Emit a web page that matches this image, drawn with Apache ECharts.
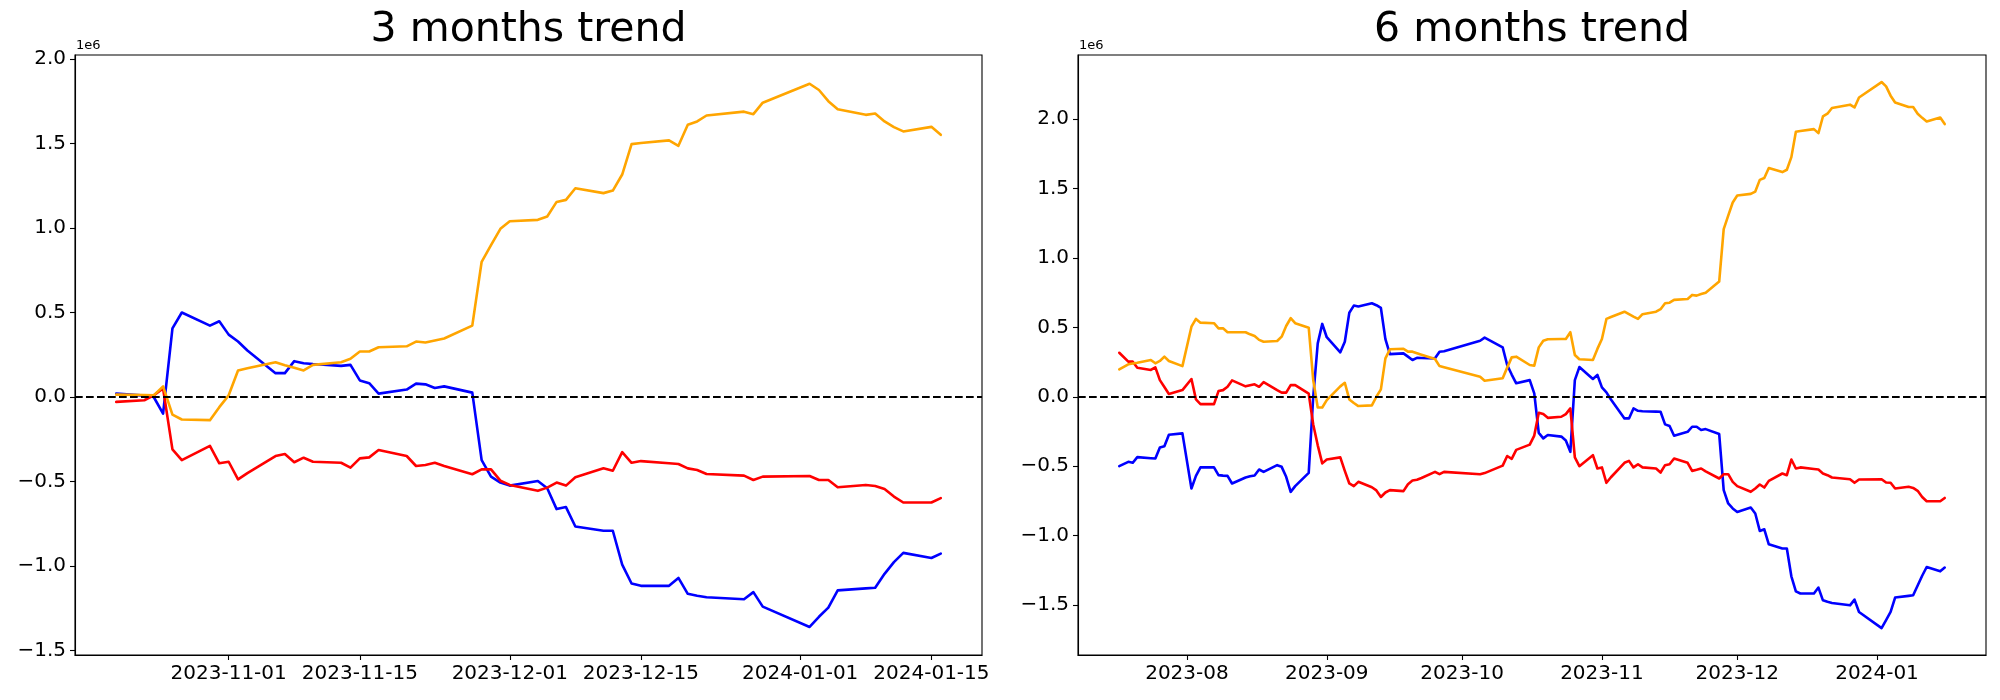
<!DOCTYPE html>
<html><head><meta charset="utf-8">
<script src="https://cdn.jsdelivr.net/npm/echarts@6/dist/echarts.min.js"></script>
<style>html,body{margin:0;padding:0;background:#fff}#c{width:2000px;height:700px}</style>
</head><body><div id="c"></div>
<script>
// ---------- 3 months (values in units of 1e6) ----------
const dates3 = ['2023-10-20','2023-10-23','2023-10-24','2023-10-25','2023-10-26','2023-10-27','2023-10-30','2023-10-31',
'2023-11-01','2023-11-02','2023-11-03','2023-11-06','2023-11-07','2023-11-08','2023-11-09','2023-11-10',
'2023-11-13','2023-11-14','2023-11-15','2023-11-16','2023-11-17','2023-11-20','2023-11-21','2023-11-22','2023-11-23','2023-11-24',
'2023-11-27','2023-11-28','2023-11-29','2023-11-30','2023-12-01',
'2023-12-04','2023-12-05','2023-12-06','2023-12-07','2023-12-08',
'2023-12-11','2023-12-12','2023-12-13','2023-12-14','2023-12-15',
'2023-12-18','2023-12-19','2023-12-20','2023-12-21','2023-12-22',
'2023-12-26','2023-12-27','2023-12-28',
'2024-01-02','2024-01-03','2024-01-04','2024-01-05',
'2024-01-08','2024-01-09','2024-01-10','2024-01-11','2024-01-12',
'2024-01-15','2024-01-16'];
const blue3 = [0.02,0.008,0.0,-0.098,0.406,0.50,0.422,0.448,
0.369,0.328,0.275,0.141,0.141,0.212,0.20,0.195,
0.184,0.19,0.098,0.082,0.02,0.044,0.079,0.075,0.053,0.063,
0.026,-0.373,-0.471,-0.506,-0.524,
-0.497,-0.54,-0.663,-0.651,-0.766,
-0.791,-0.791,-0.991,-1.103,-1.117,
-1.117,-1.07,-1.164,-1.175,-1.184,
-1.196,-1.154,-1.24,
-1.36,-1.30,-1.246,-1.144,
-1.132,-1.128,-1.046,-0.977,-0.922,
-0.952,-0.926];
const red3 = [-0.029,-0.019,0.01,0.05,-0.31,-0.373,-0.289,-0.392,
-0.383,-0.487,-0.45,-0.349,-0.337,-0.386,-0.359,-0.383,
-0.389,-0.418,-0.363,-0.357,-0.314,-0.349,-0.408,-0.402,-0.389,-0.408,
-0.457,-0.428,-0.428,-0.495,-0.52,
-0.555,-0.536,-0.506,-0.524,-0.475,
-0.422,-0.436,-0.326,-0.389,-0.379,
-0.392,-0.396,-0.422,-0.432,-0.455,
-0.465,-0.491,-0.471,
-0.467,-0.491,-0.491,-0.534,
-0.52,-0.526,-0.544,-0.589,-0.624,
-0.624,-0.598];
const orange3 = [0.014,0.012,0.01,0.063,-0.104,-0.133,-0.137,-0.06,
0.01,0.157,0.17,0.206,0.188,0.173,0.157,0.19,
0.206,0.226,0.269,0.269,0.294,0.30,0.328,0.322,0.334,0.346,
0.422,0.80,0.899,0.995,1.04,
1.048,1.068,1.154,1.166,1.235,
1.206,1.221,1.316,1.496,1.502,
1.518,1.486,1.61,1.63,1.665,
1.688,1.673,1.741,
1.853,1.816,1.75,1.702,
1.669,1.677,1.63,1.596,1.571,
1.598,1.551];
const xTicks3 = ['2023-11-01','2023-11-15','2023-12-01','2023-12-15','2024-01-01','2024-01-15'];

// ---------- 6 months (values in units of 1e6) ----------
const dates6 = ['2023-07-17','2023-07-19','2023-07-20','2023-07-21','2023-07-24','2023-07-25','2023-07-26','2023-07-27','2023-07-28','2023-07-31',
'2023-08-02','2023-08-03','2023-08-04','2023-08-07','2023-08-08','2023-08-09','2023-08-10','2023-08-11','2023-08-14','2023-08-15','2023-08-16','2023-08-17','2023-08-18','2023-08-21','2023-08-22','2023-08-23','2023-08-24','2023-08-25','2023-08-28','2023-08-29','2023-08-30','2023-08-31',
'2023-09-01','2023-09-04','2023-09-05','2023-09-06','2023-09-07','2023-09-08','2023-09-11','2023-09-12','2023-09-13','2023-09-14','2023-09-15','2023-09-18','2023-09-19','2023-09-20','2023-09-21','2023-09-22','2023-09-25','2023-09-26','2023-09-27',
'2023-10-05','2023-10-06','2023-10-10','2023-10-11','2023-10-12','2023-10-13','2023-10-16','2023-10-17','2023-10-18','2023-10-19','2023-10-20','2023-10-23','2023-10-24','2023-10-25','2023-10-26','2023-10-27','2023-10-30','2023-10-31',
'2023-11-01','2023-11-02','2023-11-03','2023-11-06','2023-11-07','2023-11-08','2023-11-09','2023-11-10','2023-11-13','2023-11-14','2023-11-15','2023-11-16','2023-11-17','2023-11-20','2023-11-21','2023-11-22','2023-11-23','2023-11-24','2023-11-27','2023-11-28','2023-11-29','2023-11-30',
'2023-12-01','2023-12-04','2023-12-05','2023-12-06','2023-12-07','2023-12-08','2023-12-11','2023-12-12','2023-12-13','2023-12-14','2023-12-15','2023-12-18','2023-12-19','2023-12-20','2023-12-21','2023-12-22','2023-12-26','2023-12-27','2023-12-28',
'2024-01-02','2024-01-03','2024-01-04','2024-01-05','2024-01-08','2024-01-09','2024-01-10','2024-01-11','2024-01-12','2024-01-15','2024-01-16'];
const blue6 = [-0.50,-0.469,-0.476,-0.435,-0.443,-0.445,-0.365,-0.356,-0.274,-0.264,
-0.661,-0.57,-0.509,-0.509,-0.565,-0.568,-0.57,-0.625,-0.582,-0.573,-0.567,-0.524,-0.541,-0.493,-0.505,-0.577,-0.685,-0.644,-0.548,0.0,0.385,0.525,
0.429,0.32,0.397,0.606,0.657,0.65,0.674,0.66,0.64,0.415,0.307,0.313,0.289,0.265,0.28,0.279,0.277,0.325,0.328,
0.404,0.426,0.356,0.229,0.16,0.097,0.12,0.025,-0.26,-0.30,-0.276,-0.287,-0.315,-0.397,0.12,0.214,0.128,0.157,
0.068,0.032,-0.02,-0.156,-0.156,-0.084,-0.101,-0.104,-0.107,-0.108,-0.199,-0.211,-0.281,-0.253,-0.216,-0.216,-0.24,-0.233,-0.269,-0.673,-0.769,-0.805,
-0.83,-0.798,-0.841,-0.967,-0.955,-1.063,-1.094,-1.094,-1.294,-1.402,-1.418,-1.418,-1.375,-1.467,-1.478,-1.486,-1.503,-1.462,-1.551,
-1.667,-1.61,-1.551,-1.447,-1.435,-1.431,-1.36,-1.29,-1.227,-1.258,-1.231];
const red6 = [0.317,0.253,0.253,0.209,0.193,0.212,0.12,0.07,0.02,0.048,
0.128,-0.019,-0.053,-0.053,0.041,0.048,0.072,0.118,0.075,0.083,0.09,0.072,0.106,0.048,0.03,0.03,0.084,0.084,0.022,-0.2,-0.35,-0.48,
-0.452,-0.437,-0.534,-0.625,-0.644,-0.613,-0.652,-0.675,-0.722,-0.69,-0.673,-0.68,-0.63,-0.603,-0.598,-0.585,-0.541,-0.558,-0.541,
-0.558,-0.55,-0.496,-0.427,-0.447,-0.383,-0.345,-0.28,-0.115,-0.125,-0.152,-0.144,-0.125,-0.084,-0.437,-0.5,-0.421,-0.517,
-0.509,-0.62,-0.58,-0.476,-0.462,-0.509,-0.486,-0.509,-0.517,-0.546,-0.493,-0.486,-0.445,-0.476,-0.534,-0.526,-0.517,-0.538,-0.589,-0.558,-0.558,-0.613,
-0.644,-0.685,-0.661,-0.632,-0.654,-0.606,-0.553,-0.565,-0.452,-0.517,-0.509,-0.52,-0.524,-0.553,-0.565,-0.582,-0.594,-0.62,-0.596,
-0.594,-0.618,-0.62,-0.661,-0.649,-0.657,-0.678,-0.722,-0.753,-0.753,-0.729];
const orange6 = [0.198,0.234,0.24,0.245,0.265,0.241,0.258,0.289,0.258,0.221,
0.505,0.561,0.534,0.53,0.493,0.493,0.465,0.465,0.465,0.45,0.438,0.41,0.397,0.402,0.433,0.51,0.566,0.53,0.498,0.12,-0.077,-0.077,
-0.024,0.075,0.101,-0.019,-0.045,-0.067,-0.062,0.0,0.053,0.277,0.342,0.346,0.325,0.325,0.314,0.303,0.272,0.221,0.212,
0.144,0.115,0.133,0.21,0.284,0.289,0.229,0.224,0.356,0.404,0.414,0.416,0.416,0.465,0.301,0.27,0.265,0.345,
0.416,0.561,0.575,0.613,0.595,0.577,0.561,0.595,0.613,0.631,0.674,0.678,0.698,0.705,0.734,0.729,0.74,0.75,0.83,1.208,1.305,1.4,
1.45,1.462,1.479,1.563,1.576,1.648,1.619,1.636,1.727,1.91,1.915,1.929,1.9,2.02,2.04,2.081,2.105,2.085,2.157,
2.268,2.237,2.17,2.121,2.088,2.088,2.04,2.01,1.984,2.013,1.965];
const xTicks6 = ['2023-08-01','2023-09-01','2023-10-01','2023-11-01','2023-12-01','2024-01-01'];

const yTicks = [-1.5,-1.0,-0.5,0.0,0.5,1.0,1.5,2.0];

function ts(s){ const p = s.split('-').map(Number); return Date.UTC(p[0], p[1]-1, p[2]); }
function pad(n){ return (n<10?'0':'') + n; }
function fmtDay(v){ const d = new Date(v); return d.getUTCFullYear()+'-'+pad(d.getUTCMonth()+1)+'-'+pad(d.getUTCDate()); }
function fmtMonth(v){ const d = new Date(v); return d.getUTCFullYear()+'-'+pad(d.getUTCMonth()+1); }
function fmtY(v){ return (v<0?'\u2212':'') + Math.abs(v).toFixed(1); }
function pairs(dates, vals){ return dates.map((d,i)=>[ts(d), vals[i]]); }
function xRange(dates){ const a = ts(dates[0]), b = ts(dates[dates.length-1]); const m = (b-a)*0.05; return [a-m, b+m]; }

const FONT = 'DejaVu Sans';
const r3 = xRange(dates3), r6 = xRange(dates6);

function xAxis(idx, range, ticks, fmt){
  const tv = ticks.map(ts);
  return {
    type:'value', gridIndex: idx, min: range[0], max: range[1], scale:true,
    axisLine:{show:true, onZero:false, lineStyle:{color:'#000', width:1.1}},
    axisTick:{show:true, inside:false, length:5, customValues: tv, lineStyle:{color:'#000', width:1.1}},
    axisLabel:{show:true, customValues: tv, formatter: fmt, color:'#000', fontFamily:FONT, fontSize:20, margin:9, hideOverlap:false},
    splitLine:{show:false}
  };
}
function yAxis(idx, mn, mx){
  return {
    type:'value', gridIndex: idx, min: mn, max: mx, scale:true,
    axisLine:{show:true, onZero:false, lineStyle:{color:'#000', width:1.1}},
    axisTick:{show:true, inside:false, length:5, customValues: yTicks, lineStyle:{color:'#000', width:1.1}},
    axisLabel:{show:true, customValues: yTicks, formatter: fmtY, color:'#000', fontFamily:FONT, fontSize:20, margin:9},
    splitLine:{show:false}
  };
}
function line(idx, data, color, withZero){
  const s = {type:'line', xAxisIndex: idx, yAxisIndex: idx, data: data, showSymbol:false, symbol:'none',
    lineStyle:{color: color, width:2.6, join:'round', cap:'round'}, itemStyle:{color: color}, animation:false, z:2};
  if (withZero) {
    s.markLine = {silent:true, symbol:['none','none'], label:{show:false}, animation:false,
      lineStyle:{color:'#000', width:2.2, type:[7.7,3.3]}, data:[{yAxis:0}]};
  }
  return s;
}

const chart = echarts.init(document.getElementById('c'), null, {renderer:'canvas'});
chart.setOption({
  animation:false,
  backgroundColor:'#fff',
  grid:[
    {left:75, top:55, width:907, height:600, show:true, borderColor:'#000', borderWidth:1.1, backgroundColor:'transparent'},
    {left:1078, top:55, width:908, height:600, show:true, borderColor:'#000', borderWidth:1.1, backgroundColor:'transparent'}
  ],
  xAxis:[ xAxis(0, r3, xTicks3, fmtDay), xAxis(1, r6, xTicks6, fmtMonth) ],
  yAxis:[ yAxis(0, -1.526, 2.023), yAxis(1, -1.861, 2.463) ],
  series:[
    line(0, pairs(dates3, blue3), '#0000ff', false),
    line(0, pairs(dates3, red3), '#ff0000', false),
    line(0, pairs(dates3, orange3), '#ffa500', true),
    line(1, pairs(dates6, blue6), '#0000ff', false),
    line(1, pairs(dates6, red6), '#ff0000', false),
    line(1, pairs(dates6, orange6), '#ffa500', true)
  ],
  graphic:[
    {type:'text', x:528.5, y:30.5, style:{text:'3 months trend', font:'41px "DejaVu Sans"', fill:'#000', align:'center', verticalAlign:'middle'}},
    {type:'text', x:1532, y:30.5, style:{text:'6 months trend', font:'41px "DejaVu Sans"', fill:'#000', align:'center', verticalAlign:'middle'}},
    {type:'text', x:76, y:46, style:{text:'1e6', font:'13px "DejaVu Sans"', fill:'#000', align:'left', verticalAlign:'middle'}},
    {type:'text', x:1079, y:46, style:{text:'1e6', font:'13px "DejaVu Sans"', fill:'#000', align:'left', verticalAlign:'middle'}}
  ]
});
</script>
</body></html>
